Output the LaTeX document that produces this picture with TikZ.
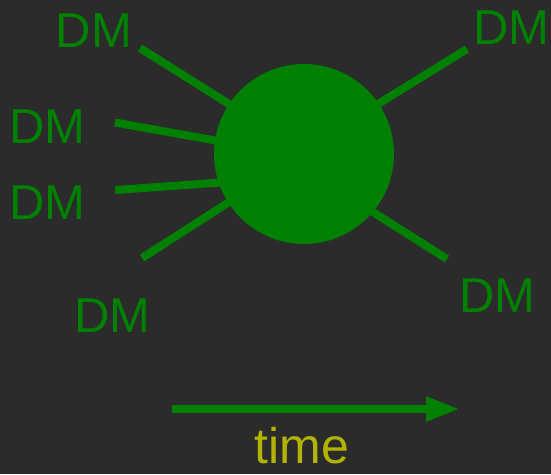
\documentclass[tikz,border=0pt]{standalone}
\usepackage{fontspec}
\setmainfont{Liberation Sans}
\usetikzlibrary{arrows.meta}
\definecolor{board}{HTML}{2B2B2B}
\definecolor{dmgreen}{HTML}{008000}
\definecolor{timeyellow}{HTML}{B4B400}
\begin{document}
\begin{tikzpicture}[x=1pt,y=-1pt,
  dmlabel/.style={text=dmgreen,inner sep=0pt,anchor=center,font=\fontsize{49}{58}\selectfont},
  ray/.style={draw=dmgreen,line width=8pt},
  blob/.style={circle,fill=dmgreen,minimum size=180pt,inner sep=0pt}]
\fill[board] (0,0) rectangle (551,474);
\useasboundingbox (0,0) rectangle (551,474);
% rays
\coordinate (o1) at (140,48);   \coordinate (i1) at (240,111);
\coordinate (o2) at (115,122.5);\coordinate (i2) at (235,144);
\coordinate (o3) at (115,190);  \coordinate (i3) at (235,181.5);
\coordinate (o4) at (142,258);  \coordinate (i4) at (240,195);
\coordinate (o5) at (467,49);   \coordinate (i5) at (370,109);
\coordinate (o6) at (447,259);  \coordinate (i6) at (365,207);
\foreach \k in {1,...,6} \draw[ray] (o\k) -- (i\k);
\node[blob] (core) at (304,154) {};
% labels
\node[dmlabel] (dm1) at (94,30.5) {DM};
\node[dmlabel] (dm2) at (47.5,126.5) {DM};
\node[dmlabel] (dm3) at (47.5,203) {DM};
\node[dmlabel] (dm4) at (112.5,315.5) {DM};
\node[dmlabel] (dm5) at (511.5,28) {DM};
\node[dmlabel] (dm6) at (497.5,295.5) {DM};
% time arrow
\coordinate (ta) at (172,409);
\coordinate (tb) at (460,409);
\draw[draw=dmgreen,line width=8pt,-{Triangle[length=34pt,width=23pt]}] (ta) -- (tb);
\node[text=timeyellow,inner sep=0pt,anchor=base,font=\fontsize{50}{60}\selectfont] (time) at (302,463) {time};
\end{tikzpicture}
\end{document}
